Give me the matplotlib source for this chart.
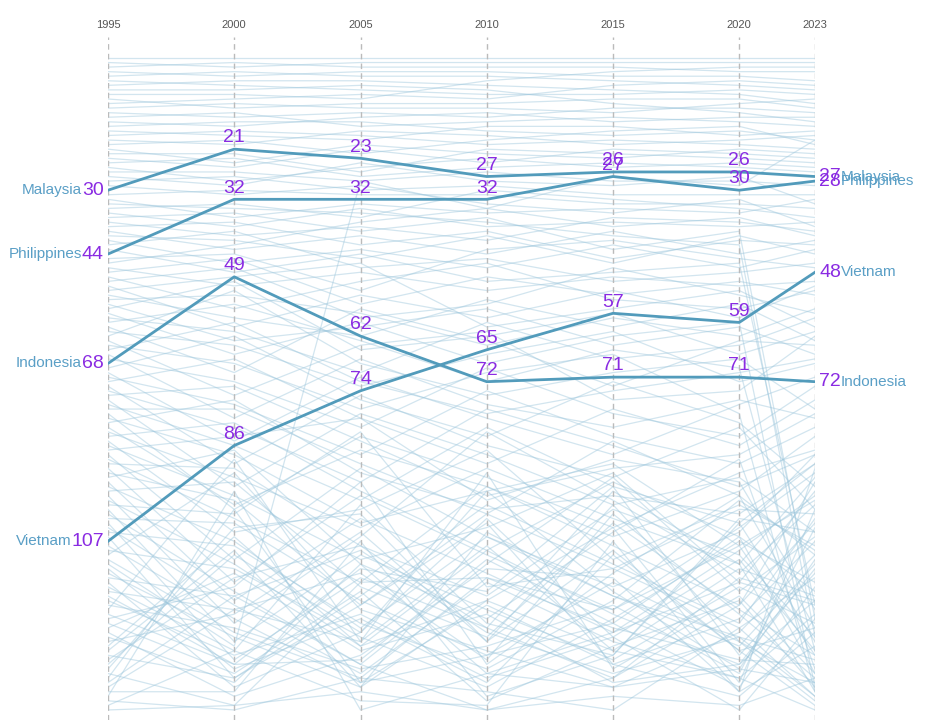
import matplotlib
matplotlib.use("Agg")
import matplotlib.pyplot as plt

# years shown on the top of the chart
years = [1995, 2000, 2005, 2010, 2015, 2020, 2023]

# highlighted countries (rank per year)
countries = ["Malaysia", "Philippines", "Indonesia", "Vietnam"]
malaysia = [30, 21, 23, 27, 26, 26, 27]
philippines = [44, 32, 32, 32, 27, 30, 28]
indonesia = [68, 49, 62, 72, 71, 71, 72]
vietnam = [107, 86, 74, 65, 57, 59, 48]
highlight = [malaysia, philippines, indonesia, vietnam]

# the other countries, faint in the background (rank per year)
other_ranks = [
    [1, 1, 1, 1, 1, 1, 1],
    [2, 3, 2, 2, 2, 2, 2],
    [3, 2, 3, 3, 3, 4, 4],
    [4, 5, 4, 4, 5, 5, 6],
    [5, 4, 5, 5, 6, 7, 8],
    [6, 7, 8, 9, 9, 8, 9],
    [7, 6, 6, 7, 8, 9, 11],
    [8, 8, 7, 8, 11, 13, 15],
    [9, 9, 10, 6, 4, 3, 3],
    [10, 12, 11, 11, 10, 10, 12],
    [11, 10, 9, 10, 7, 6, 7],
    [12, 11, 12, 12, 13, 11, 10],
    [13, 14, 13, 14, 12, 12, 13],
    [14, 13, 16, 15, 14, 15, 16],
    [15, 16, 14, 13, 15, 14, 14],
    [16, 15, 15, 17, 18, 17, 19],
    [17, 18, 19, 16, 16, 18, 17],
    [18, 17, 18, 20, 19, 20, 21],
    [19, 20, 17, 18, 20, 19, 18],
    [20, 19, 22, 19, 17, 16, 20],
    [21, 24, 20, 22, 23, 21, 22],
    [22, 22, 26, 21, 22, 23, 24],
    [23, 25, 21, 24, 21, 22, 23],
    [24, 23, 27, 25, 24, 25, 26],
    [25, 28, 25, 23, 25, 24, 25],
    [26, 26, 28, 26, 28, 28, 29],
    [27, 29, 24, 28, 29, 27, 33],
    [28, 27, 30, 29, 31, 31, 31],
    [29, 31, 29, 33, 35, 32, 38],
    [31, 30, 31, 31, 33, 33, 34],
    [32, 36, 33, 35, 34, 35, 32],
    [33, 34, 35, 37, 40, 42, 128],
    [34, 33, 36, 30, 32, 34, 36],
    [35, 38, 34, 38, 37, 38, 37],
    [36, 35, 39, 36, 43, 39, 124],
    [37, 40, 38, 41, 36, 37, 39],
    [38, 37, 42, 39, 45, 41, 42],
    [39, 43, 40, 44, 39, 44, 41],
    [40, 41, 45, 40, 46, 40, 44],
    [41, 46, 43, 47, 42, 47, 43],
    [42, 39, 47, 45, 50, 48, 46],
    [43, 48, 44, 50, 48, 46, 121],
    [45, 44, 52, 43, 41, 45, 47],
    [46, 42, 37, 34, 27, 29, 19],
    [47, 51, 48, 52, 49, 51, 50],
    [48, 45, 55, 49, 53, 50, 53],
    [49, 56, 50, 46, 54, 56, 52],
    [50, 47, 58, 55, 47, 53, 57],
    [51, 60, 53, 58, 52, 58, 51],
    [52, 49, 46, 60, 56, 52, 60],
    [53, 58, 62, 54, 60, 55, 63],
    [54, 53, 57, 64, 58, 62, 56],
    [55, 63, 60, 56, 64, 60, 66],
    [56, 50, 65, 62, 57, 66, 61],
    [57, 66, 59, 68, 62, 59, 139],
    [58, 61, 70, 59, 67, 64, 58],
    [59, 55, 63, 72, 65, 69, 131],
    [60, 70, 56, 63, 73, 63, 64],
    [61, 64, 73, 66, 61, 72, 68],
    [62, 52, 68, 75, 70, 67, 78],
    [63, 75, 64, 61, 76, 74, 62],
    [64, 68, 78, 70, 66, 79, 140],
    [65, 59, 72, 79, 74, 70, 67],
    [66, 80, 67, 77, 82, 76, 80],
    [67, 72, 82, 69, 79, 84, 73],
    [69, 62, 76, 84, 72, 81, 95],
    [70, 85, 71, 80, 88, 77, 71],
    [71, 77, 88, 74, 84, 90, 82],
    [72, 67, 80, 90, 78, 86, 76],
    [73, 90, 75, 86, 93, 82, 100],
    [74, 82, 94, 78, 86, 95, 88],
    [75, 73, 85, 97, 91, 88, 79],
    [76, 95, 79, 88, 99, 93, 105],
    [77, 86, 98, 82, 95, 103, 90],
    [78, 78, 90, 101, 85, 97, 110],
    [79, 100, 84, 93, 104, 92, 87],
    [80, 88, 103, 96, 90, 108, 98],
    [81, 76, 92, 100, 97, 101, 90],
    [82, 99, 87, 95, 106, 96, 84],
    [83, 93, 104, 91, 102, 112, 93],
    [84, 81, 96, 109, 94, 106, 118],
    [85, 105, 100, 87, 111, 99, 108],
    [86, 97, 111, 104, 92, 116, 96],
    [87, 84, 80, 98, 89, 94, 122],
    [88, 111, 91, 106, 117, 105, 88],
    [89, 102, 116, 95, 108, 121, 103],
    [90, 91, 108, 119, 100, 110, 128],
    [91, 116, 97, 110, 122, 104, 92],
    [92, 98, 121, 101, 113, 126, 115],
    [93, 87, 112, 124, 105, 89, 135],
    [94, 120, 102, 114, 127, 109, 97],
    [95, 107, 126, 106, 119, 130, 112],
    [96, 94, 117, 128, 103, 122, 132],
    [97, 125, 106, 83, 98, 114, 99],
    [98, 112, 130, 109, 123, 134, 120],
    [99, 101, 83, 117, 113, 100, 101],
    [100, 129, 110, 122, 133, 117, 125],
    [101, 118, 134, 112, 93, 118, 106],
    [102, 103, 120, 132, 116, 129, 138],
    [103, 133, 115, 126, 137, 121, 94],
    [104, 121, 136, 116, 129, 137, 123],
    [105, 108, 125, 135, 120, 98, 109],
    [106, 137, 119, 99, 112, 125, 102],
    [108, 124, 138, 121, 134, 141, 127],
    [109, 113, 128, 139, 124, 107, 116],
    [110, 92, 122, 131, 139, 127, 110],
    [111, 127, 137, 115, 126, 133, 134],
    [112, 130, 28, 34, 38, 36, 40],
    [113, 135, 124, 138, 110, 131, 126],
    [114, 128, 139, 120, 131, 113, 119],
    [115, 119, 109, 127, 136, 128, 141],
    [116, 139, 127, 96, 118, 135, 111],
    [117, 131, 99, 125, 132, 103, 129],
    [118, 122, 114, 133, 101, 123, 137],
    [119, 134, 133, 111, 125, 139, 117],
    [120, 132, 123, 137, 128, 111, 131],
    [121, 126, 135, 130, 121, 136, 104],
    [122, 89, 129, 92, 135, 119, 136],
    [123, 134, 113, 118, 95, 132, 114],
    [124, 117, 94, 134, 114, 97, 126],
    [125, 136, 118, 142, 130, 120, 139],
    [126, 114, 131, 123, 138, 134, 113],
    [127, 141, 132, 113, 115, 140, 130],
    [128, 138, 112, 136, 127, 116, 121],
    [129, 123, 105, 129, 109, 131, 143],
    [130, 106, 130, 120, 104, 138, 100],
    [131, 109, 139, 105, 119, 128, 133],
    [132, 137, 121, 103, 134, 124, 107],
    [133, 115, 108, 126, 96, 112, 140],
    [134, 110, 127, 102, 128, 144, 124],
    [135, 104, 101, 129, 99, 129, 142],
    [136, 143, 116, 115, 122, 108, 132],
    [137, 100, 138, 132, 125, 106, 136],
    [138, 119, 134, 144, 137, 115, 120],
    [139, 122, 129, 108, 131, 137, 144],
    [140, 140, 107, 141, 132, 102, 105],
    [141, 96, 144, 136, 139, 135, 138],
    [142, 144, 137, 140, 144, 126, 141],
    [143, 131, 142, 143, 107, 140, 91],
    [144, 143, 140, 144, 141, 143, 137],
]

plt.rcParams['font.family'] = ['Liberation Sans', 'DejaVu Sans']

line_col = '#529bbb'
bg_col = '#9cc6dc'
num_col = '#8a2be2'
name_col = '#5a9fc6'

fig = plt.figure(figsize=(9.42, 7.26), dpi=100)
ax = fig.add_axes([108 / 942, 1 - 720 / 726, 707 / 942, 683 / 726])

# background countries
for ranks in other_ranks:
    ax.plot(years, ranks, color=bg_col, lw=0.9, alpha=0.45, zorder=1)

# dashed year guides
for yr in years:
    ax.axvline(yr, color='#bbbbbb', lw=1, ls=(0, (4, 3)), zorder=2)
    ax.annotate(str(yr), xy=(yr, 1), xycoords=('data', 'axes fraction'),
                xytext=(0, 5), textcoords='offset points',
                ha='center', va='bottom', fontsize=8, color='#555555')

# highlighted countries
for name, ranks in zip(countries, highlight):
    ax.plot(years, ranks, color=line_col, lw=2, zorder=3)
    for i, (yr, r) in enumerate(zip(years, ranks)):
        if i == 0:
            t = ax.annotate(str(r), xy=(yr, r), xytext=(-3, 0),
                            textcoords='offset points', ha='right', va='center',
                            fontsize=14, color=num_col, zorder=4)
            ax.annotate(name, xy=(0, 0.5), xycoords=t, ha='right', va='center',
                        fontsize=11, color=name_col, zorder=4)
        elif i == len(years) - 1:
            t = ax.annotate(str(r), xy=(yr, r), xytext=(3, 0),
                            textcoords='offset points', ha='left', va='center',
                            fontsize=14, color=num_col, zorder=4)
            ax.annotate(name, xy=(1, 0.5), xycoords=t, ha='left', va='center',
                        fontsize=11, color=name_col, zorder=4)
        else:
            ax.annotate(str(r), xy=(yr, r), xytext=(0, 2),
                        textcoords='offset points', ha='center', va='bottom',
                        fontsize=14, color=num_col, zorder=4)

ax.set_xlim(1995, 2023)
ax.set_ylim(146.2, -3.6)
ax.axis('off')

plt.savefig('out.png', dpi=100)
